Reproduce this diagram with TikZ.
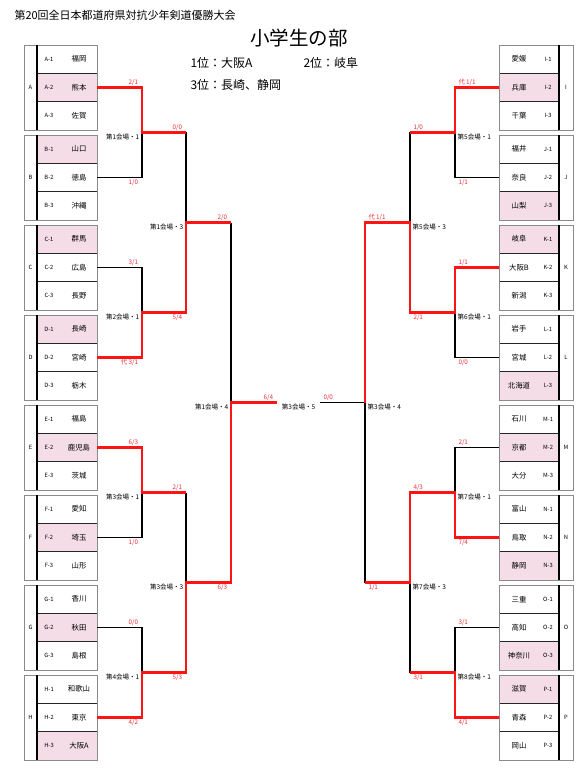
\documentclass[tikz,border=0pt]{standalone}
\usepackage{fontspec}
\setmainfont{Noto Sans CJK JP}
\usepackage{tikz}
\usetikzlibrary{calc}
\definecolor{RowPink}{HTML}{F5DDE8}
\definecolor{WinRed}{HTML}{FF1414}
\definecolor{ScoreRed}{HTML}{E3303A}
\definecolor{BoxGray}{HTML}{8A8A8A}

\begin{document}
\begin{tikzpicture}[x=1pt,y=-1pt,
    teamrow/.style={minimum width=60pt,minimum height=28.33pt,inner sep=0pt,outer sep=0pt},
    codetxt/.style={font=\fontsize{5.8}{6}\selectfont,inner sep=0pt},
    nametxt/.style={font=\fontsize{7.4}{8}\selectfont,inner sep=0pt},
    lose/.style={black,line width=1.1pt},
    win/.style={WinRed,line width=2.6pt},
    score/.style={ScoreRed,font=\fontsize{6.3}{7}\selectfont,inner sep=0.3pt},
    lup/.style={score,anchor=south east,xshift=-3.5pt,yshift=1.2pt},
    ldown/.style={score,anchor=north east,xshift=-3.5pt,yshift=-1.2pt},
    rup/.style={score,anchor=south west,xshift=3pt,yshift=1.2pt},
    rdown/.style={score,anchor=north west,xshift=3pt,yshift=-1.2pt},
    venue/.style={font=\fontsize{6.5}{7}\selectfont,inner sep=0pt},
    lvenue/.style={venue,anchor=north east,xshift=-2.5pt,yshift=-1.2pt},
    rvenue/.style={venue,anchor=north west,xshift=2.5pt,yshift=-1.2pt}]
  \useasboundingbox (0,0) rectangle (587,778);

  \node[anchor=west,font=\fontsize{11}{12}\selectfont] (meet) at (11,15) {第20回全日本都道府県対抗少年剣道優勝大会};
  \node[font=\fontsize{19.5}{20}\selectfont] (division) at (299,38) {小学生の部};
  \node[anchor=west,font=\fontsize{12}{13}\selectfont] (first) at (187,63) {1位：大阪A};
  \node[anchor=west,font=\fontsize{12}{13}\selectfont] (second) at (300,63) {2位：岐阜};
  \node[anchor=west,font=\fontsize{12}{13}\selectfont] (third) at (187,85) {3位：長崎、静岡};

  % pools, left
  \foreach \grp/\ta/\tb/\tc/\hi [count=\k from 0] in
    {A/福岡/熊本/佐賀/2,B/山口/徳島/沖縄/1,C/群馬/広島/長野/1,D/長崎/宮崎/栃木/1,
     E/福島/鹿児島/茨城/2,F/愛知/埼玉/山形/2,G/香川/秋田/島根/2,H/和歌山/東京/大阪A/3}{
    \pgfmathsetmacro\ptop{45+90*\k}
    \foreach \rw/\tm in {1/\ta,2/\tb,3/\tc}{
      \ifnum\rw=\hi\def\rowfill{RowPink}\else\def\rowfill{white}\fi
      \node[teamrow,fill=\rowfill] (t\grp\rw) at (67,\ptop+28.333*\rw-14.167) {};
      \node[codetxt] at (49,\ptop+28.333*\rw-14.167) {\grp-\rw};
      \node[nametxt] at (79,\ptop+28.333*\rw-14.167) {\tm};
    }
    \draw[black!85,line width=0.8pt] (37,\ptop+28.333) -- (97,\ptop+28.333)
      (37,\ptop+56.667) -- (97,\ptop+56.667);
    \draw[BoxGray,line width=0.5pt] (24,\ptop) rectangle (97,\ptop+85);
    \draw[black,line width=1.3pt] (37,\ptop) -- (37,\ptop+85);
    \node[codetxt] at (30.5,\ptop+42.5) {\grp};
  }

  % pools, right
  \foreach \grp/\ta/\tb/\tc/\hi [count=\k from 0] in
    {I/愛媛/兵庫/千葉/2,J/福井/奈良/山梨/3,K/岐阜/大阪B/新潟/1,L/岩手/宮城/北海道/3,
     M/石川/京都/大分/2,N/富山/鳥取/静岡/3,O/三重/高知/神奈川/3,P/滋賀/青森/岡山/1}{
    \pgfmathsetmacro\ptop{45+90*\k}
    \foreach \rw/\tm in {1/\ta,2/\tb,3/\tc}{
      \ifnum\rw=\hi\def\rowfill{RowPink}\else\def\rowfill{white}\fi
      \node[teamrow,fill=\rowfill] (t\grp\rw) at (529,\ptop+28.333*\rw-14.167) {};
      \node[codetxt] at (548,\ptop+28.333*\rw-14.167) {\grp-\rw};
      \node[nametxt] at (519,\ptop+28.333*\rw-14.167) {\tm};
    }
    \draw[black!85,line width=0.8pt] (499,\ptop+28.333) -- (559,\ptop+28.333)
      (499,\ptop+56.667) -- (559,\ptop+56.667);
    \draw[BoxGray,line width=0.5pt] (499,\ptop) rectangle (573,\ptop+85);
    \draw[black,line width=1.3pt] (559,\ptop) -- (559,\ptop+85);
    \node[codetxt] at (566,\ptop+42.5) {\grp};
  }

  \coordinate (lm1) at (142,132.5);
  \coordinate (lm2) at (142,312.5);
  \coordinate (lm3) at (142,492.5);
  \coordinate (lm4) at (142,672.5);
  \coordinate (lm5) at (186,222.5);
  \coordinate (lm6) at (186,582.5);
  \coordinate (lm7) at (231,402.5);
  \coordinate (lfin) at (277,402.5);
  \coordinate (rm1) at (455,132.5);
  \coordinate (rm2) at (455,312.5);
  \coordinate (rm3) at (455,492.5);
  \coordinate (rm4) at (455,672.5);
  \coordinate (rm5) at (410,222.5);
  \coordinate (rm6) at (410,582.5);
  \coordinate (rm7) at (365,402.5);
  \coordinate (rfin) at (320,402.5);

  % beaten paths
  \draw[lose] (tB2.east) -| (lm1);
  \draw[lose] (tC2.east) -| (lm2);
  \draw[lose] (tF2.east) -| (lm3);
  \draw[lose] (tG2.east) -| (lm4);
  \draw[lose] (lm1 -| lm5) -- (lm5);
  \draw[lose] (lm3 -| lm6) -- (lm6);
  \draw[lose] (lm5 -| lm7) -- (lm7);
  \draw[lose] (tJ2.west) -| (rm1);
  \draw[lose] (tL2.west) -| (rm2);
  \draw[lose] (tM2.west) -| (rm3);
  \draw[lose] (tO2.west) -| (rm4);
  \draw[lose] (rm1 -| rm5) -- (rm5);
  \draw[lose] (rm4 -| rm6) -- (rm6);
  \draw[lose] (rm6 -| rm7) -- (rm7);
  \draw[lose] (rm7) -- (rfin);

  % winning paths
  \draw[win] (tA2.east) -| (lm1) -- (lm1 -| lm5);
  \draw[win] (tD2.east) -| (lm2) -| (lm5) -- (lm5 -| lm7);
  \draw[win] (tE2.east) -| (lm3) -- (lm3 -| lm6);
  \draw[win] (tH2.east) -| (lm4) -| (lm6) -| (lm7) -- (lfin);
  \draw[win] (tI2.west) -| (rm1) -- (rm1 -| rm5);
  \draw[win] (tK2.west) -| (rm2) -| (rm5) -| (rm7);
  \draw[win] (tN2.west) -| (rm3) -| (rm6) -- (rm6 -| rm7);
  \draw[win] (tP2.west) -| (rm4) -- (rm4 -| rm6);

  \node[lup] at (lm1 |- tA2) {2/1};
  \node[ldown] at (lm1 |- tB2) {1/0};
  \node[lup] at (lm2 |- tC2) {3/1};
  \node[ldown] at (lm2 |- tD2) {代\ 3/1};
  \node[lup] at (lm3 |- tE2) {6/3};
  \node[ldown] at (lm3 |- tF2) {1/0};
  \node[lup] at (lm4 |- tG2) {0/0};
  \node[ldown] at (lm4 |- tH2) {4/2};
  \node[lup] at (lm5 |- lm1) {0/0};
  \node[ldown] at (lm5 |- lm2) {5/4};
  \node[lup] at (lm6 |- lm3) {2/1};
  \node[ldown] at (lm6 |- lm4) {5/3};
  \node[lup] at (lm7 |- lm5) {2/0};
  \node[ldown] at (lm7 |- lm6) {6/3};
  \node[lup] at (lfin) {6/4};
  \node[rup] at (rm1 |- tI2) {代\ 1/1};
  \node[rdown] at (rm1 |- tJ2) {1/1};
  \node[rup] at (rm2 |- tK2) {1/1};
  \node[rdown] at (rm2 |- tL2) {0/0};
  \node[rup] at (rm3 |- tM2) {2/1};
  \node[rdown] at (rm3 |- tN2) {7/4};
  \node[rup] at (rm4 |- tO2) {3/1};
  \node[rdown] at (rm4 |- tP2) {4/1};
  \node[rup] at (rm5 |- rm1) {1/0};
  \node[rdown] at (rm5 |- rm2) {2/1};
  \node[rup] at (rm6 |- rm3) {4/3};
  \node[rdown] at (rm6 |- rm4) {3/1};
  \node[rup] at (rm7 |- rm5) {代\ 1/1};
  \node[rdown] at (rm7 |- rm6) {1/1};
  \node[rup] at (rfin) {0/0};

  \node[lvenue] at (lm1) {第1会場・1};
  \node[lvenue] at (lm2) {第2会場・1};
  \node[lvenue] at (lm3) {第3会場・1};
  \node[lvenue] at (lm4) {第4会場・1};
  \node[lvenue] at (lm5) {第1会場・3};
  \node[lvenue] at (lm6) {第3会場・3};
  \node[lvenue] at (lm7) {第1会場・4};
  \node[rvenue] at (rm1) {第5会場・1};
  \node[rvenue] at (rm2) {第6会場・1};
  \node[rvenue] at (rm3) {第7会場・1};
  \node[rvenue] at (rm4) {第8会場・1};
  \node[rvenue] at (rm5) {第5会場・3};
  \node[rvenue] at (rm6) {第7会場・3};
  \node[rvenue] at (rm7) {第3会場・4};
  \node[venue,anchor=north,yshift=-1.2pt] (final) at ($(lfin)!0.5!(rfin)$) {第3会場・5};
\end{tikzpicture}
\end{document}
